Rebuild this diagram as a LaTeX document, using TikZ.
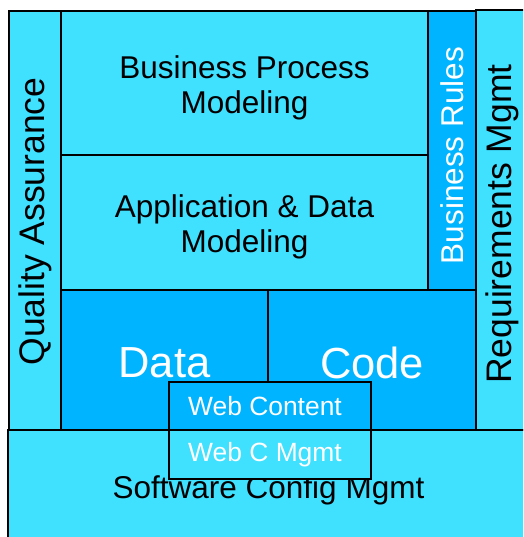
\documentclass[tikz,border=0pt]{standalone}
\usepackage{fontspec}
\setmainfont{Liberation Sans}
\definecolor{lightblue}{RGB}{64,224,255}
\definecolor{darkblue}{RGB}{0,180,255}

\begin{document}
\begin{tikzpicture}[x=1pt, y=-1pt,
    area/.style={draw, line width=1.8pt, fill=lightblue, inner sep=0pt, outer sep=0pt, anchor=north west},
    core/.style={area, fill=darkblue},
    body/.style={align=center, font=\fontsize{31.5}{35}\selectfont},
    big/.style={text=white, font=\fontsize{43.5}{48}\selectfont},
    web/.style={text=white, font=\fontsize{26.4}{30}\selectfont},
    side/.style={rotate=90, font=\fontsize{35.5}{40}\selectfont}]
    \useasboundingbox[fill=white] (0,0) rectangle (523,537);
    \clip (0,0) rectangle (523,537);

    % side columns
    \node[area, minimum width=52pt, minimum height=419pt] (qa) at (9,11) {};
    \node[side] (qatext) at ([yshift=-1pt]qa.center) {Quality Assurance};
    \node[area, minimum width=53pt, minimum height=420pt] (req) at (476,10) {};
    \node[side] (reqtext) at ([yshift=-4pt]req.center) {Requirements Mgmt};

    % bottom row
    \node[area, minimum width=521pt, minimum height=115pt] (scm) at (8,430) {};

    % modeling layers
    \node[area, minimum width=367pt, minimum height=144pt] (bpm) at (61,11) {};
    \node[body] (bpmtext) at ([yshift=-5pt]bpm.center) {Business Process\\Modeling};
    \node[area, minimum width=367pt, minimum height=135pt] (adm) at (61,155) {};
    \node[body] (admtext) at ([yshift=-4pt]adm.center) {Application \& Data\\Modeling};
    \node[core, minimum width=48pt, minimum height=279pt] (br) at (428,11) {};
    \node[side, text=white, font=\fontsize{31.5}{36}\selectfont] (brtext) at ([yshift=-5pt]br.center) {Business Rules};

    % data and code
    \node[core, minimum width=207pt, minimum height=140pt] (data) at (61,290) {};
    \node[big] (datatext) at ([yshift=-3pt]data.center) {Data};
    \node[core, minimum width=208pt, minimum height=140pt] (code) at (268,290) {};
    \node[big] (codetext) at ([yshift=-3pt]code.center) {Code};

    % software config text sits under the web box
    \node[body] (scmtext) at ([yshift=-3pt]scm.center) {Software Config Mgmt};

    % web content
    \node[core, minimum width=202pt, minimum height=48pt] (wc) at (169,382) {};
    \node[web] (wctext) at ([xshift=-5pt]wc.center) {Web Content};
    \node[area, minimum width=202pt, minimum height=49pt] (wcm) at (169,430) {};
    \node[web] (wcmtext) at ([xshift=-5pt]wcm.center) {Web C Mgmt};
\end{tikzpicture}
\end{document}
